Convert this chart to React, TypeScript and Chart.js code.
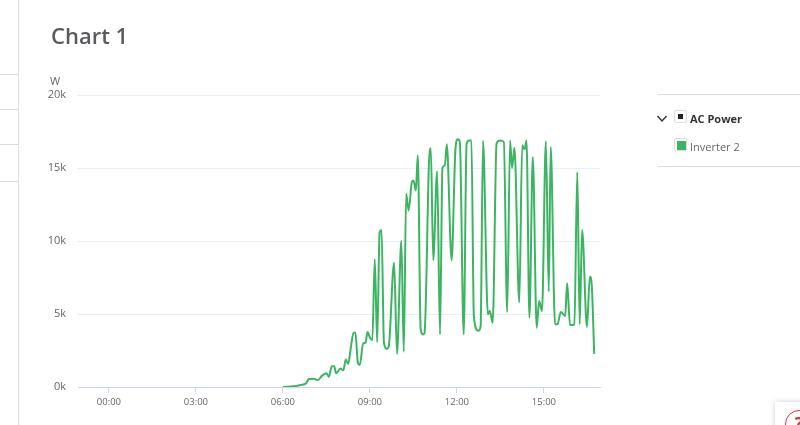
import { useEffect, useRef } from 'react';
import Chart from 'chart.js/auto';

// minutes since midnight
const times = [
  360, 383, 397, 407, 414, 424, 432, 441, 450, 455, 461, 466, 470, 479, 485, 490, 495, 500, 506, 510,
  515, 519, 526, 531, 535, 540, 545, 550, 555, 560, 564, 569, 575, 579, 590, 596, 605, 610, 615, 620,
  627, 630, 635, 639, 645, 650, 653, 664, 666, 671, 679, 685, 690, 695, 699, 709, 717, 722, 726, 734,
  740, 745, 750, 755, 764, 769, 774, 784, 788, 794, 802, 809, 817, 824, 830, 834, 839, 849, 855, 860,
  864, 870, 877, 885, 890, 896, 904, 910, 914, 923, 928, 935, 944, 948, 954, 963, 969, 974, 979, 989,
  995, 999, 1004,
];
const inverter2 = [
  0, 46, 140, 230, 550, 570, 460, 780, 940, 690, 1420, 1420, 940, 1260, 1150, 1880, 1580, 2570, 3720, 3720,
  1650, 1510, 2980, 3030, 3760, 3370, 3210, 8760, 3070, 10600, 10760, 3030, 2610, 2800, 8530, 2270, 10020, 2410, 13230, 12090,
  14080, 14150, 13460, 15870, 3940, 3600, 3720, 16330, 16330, 8690, 14770, 3600, 15000, 15180, 16630, 8690, 16330, 16970, 16790, 3600,
  16670, 16880, 16880, 4860, 3850, 4170, 16860, 4980, 5210, 4400, 16670, 16880, 16790, 5140, 16880, 15000, 16380, 5780, 16560, 16280,
  16880, 4750, 15760, 4060, 5890, 5210, 16830, 6540, 16440, 4290, 4290, 5140, 4860, 7110, 4240, 4290, 14720, 4290, 10760, 4110,
  7570, 6930, 2270,
];
const xTicks = [0, 180, 360, 540, 720, 900];
const yTicks = [0, 5000, 10000, 15000, 20000];
const sideRows = [74, 109, 144, 181];

const FONT = '"Open Sans", sans-serif';

const App = () => {
  const canvasRef = useRef<HTMLCanvasElement | null>(null);

  useEffect(() => {
    if (!canvasRef.current) return;
    const chart = new Chart(canvasRef.current, {
      type: 'line',
      data: {
        datasets: [
          {
            label: 'Inverter 2',
            data: times.map((t, i) => ({ x: t, y: inverter2[i] })),
            borderColor: '#3cb562',
            borderWidth: 2,
            pointRadius: 0,
            cubicInterpolationMode: 'monotone',
            fill: false,
          },
        ],
      },
      options: {
        animation: false,
        responsive: false,
        layout: { padding: { top: 95, right: 200, bottom: 0, left: 0 } },
        plugins: { legend: { display: false }, title: { display: false }, tooltip: { enabled: false } },
        scales: {
          x: {
            type: 'linear',
            min: -64,
            max: 1016,
            afterBuildTicks: (axis: any) => {
              axis.ticks = xTicks.map((value) => ({ value }));
            },
            afterFit: (axis: any) => {
              axis.height = 38;
            },
            border: { color: '#ccd6eb', width: 1 },
            grid: { drawOnChartArea: false, tickLength: 6, tickColor: '#ccd6eb' },
            ticks: {
              autoSkip: false,
              maxRotation: 0,
              padding: 4,
              color: '#666666',
              font: { family: FONT, size: 9.5 },
              callback: (v: any) => `${String(Math.floor(v / 60)).padStart(2, '0')}:00`,
            },
          },
          y: {
            min: 0,
            max: 20000,
            afterBuildTicks: (axis: any) => {
              axis.ticks = yTicks.map((value) => ({ value }));
            },
            afterFit: (axis: any) => {
              axis.width = 78;
            },
            border: { display: false },
            grid: { color: '#e6eef7', lineWidth: 1, drawTicks: false },
            ticks: {
              padding: 12,
              color: '#666666',
              font: { family: FONT, size: 11 },
              callback: (v: any) => `${v / 1000}k`,
            },
          },
        },
      },
    });
    return () => chart.destroy();
  }, []);

  return (
    <div style={{ position: 'fixed', left: 0, top: 0, width: 800, height: 425, overflow: 'hidden', background: '#fff', fontFamily: FONT }}>
      <canvas ref={canvasRef} width={800} height={425} style={{ display: 'block' }} />

      {/* left sidebar edge */}
      <div style={{ position: 'absolute', left: 18, top: 0, width: 1, height: 425, background: '#dddddd' }} />
      {sideRows.map((y) => (
        <div key={y} style={{ position: 'absolute', left: 0, top: y, width: 18, height: 1, background: '#dddddd' }} />
      ))}

      <div style={{ position: 'absolute', left: 51, top: 20, fontSize: 22, lineHeight: '30px', fontWeight: 600, color: '#5a5a5f' }}>Chart 1</div>
      <div style={{ position: 'absolute', left: 50, top: 74, fontSize: 11, lineHeight: '14px', color: '#666666' }}>W</div>

      {/* legend */}
      <div style={{ position: 'absolute', left: 658, top: 94, width: 142, height: 1, background: '#dddddd' }} />
      <div style={{ position: 'absolute', left: 658, top: 166, width: 142, height: 1, background: '#dddddd' }} />
      <svg style={{ position: 'absolute', left: 656, top: 114 }} width={12} height={10}>
        <path d="M1.5 2 L6 7 L10.5 2" fill="none" stroke="#333" strokeWidth={1.4} />
      </svg>
      <div style={{ position: 'absolute', left: 674, top: 110, width: 13, height: 13, border: '1px solid #dddddd', borderRadius: 2, boxSizing: 'border-box' }}>
        <div style={{ position: 'absolute', left: 3, top: 3, width: 5, height: 5, background: '#222' }} />
      </div>
      <div style={{ position: 'absolute', left: 690, top: 111, fontSize: 11, lineHeight: '15px', fontWeight: 700, color: '#333' }}>AC Power</div>
      <div style={{ position: 'absolute', left: 674, top: 138, width: 13, height: 13, border: '1px solid #dddddd', borderRadius: 2, boxSizing: 'border-box' }}>
        <div style={{ position: 'absolute', left: 2, top: 2, width: 9, height: 9, background: '#3cb562' }} />
      </div>
      <div style={{ position: 'absolute', left: 690, top: 139, fontSize: 11, lineHeight: '15px', color: '#666' }}>Inverter 2</div>

      {/* help button in the corner */}
      <div style={{ position: 'absolute', left: 775, top: 402, width: 40, height: 40, background: '#fff', boxShadow: '0 0 6px rgba(0,0,0,0.2)' }}>
        <div style={{ position: 'absolute', left: 10, top: 8, width: 28, height: 28, border: '1.5px solid #e0323c', borderRadius: '50%', boxSizing: 'border-box', color: '#e0323c', fontSize: 18, fontWeight: 700, lineHeight: '25px', textAlign: 'center' }}>?</div>
      </div>
    </div>
  );
};

export default App;
